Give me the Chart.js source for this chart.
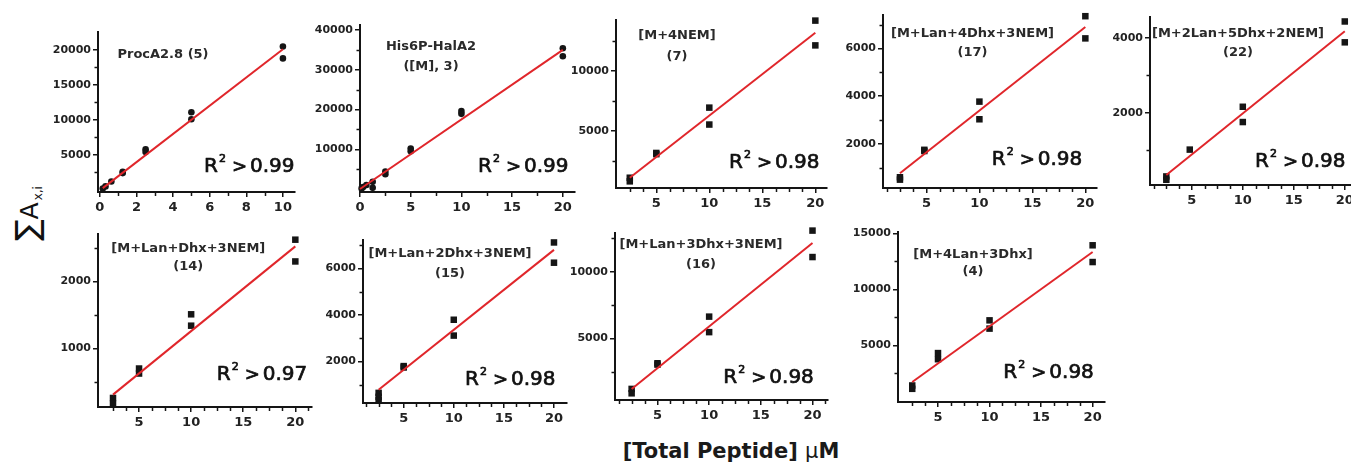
<!DOCTYPE html>
<html><head><meta charset="utf-8">
<script src="https://cdn.jsdelivr.net/npm/chart.js@4.4.1/dist/chart.umd.min.js"></script>
<style>
html,body{margin:0;padding:0;width:1351px;height:467px;overflow:hidden;background:#fff;position:relative;}
canvas{position:absolute;}
#xlab{position:absolute;left:731px;top:441px;transform:translateX(-50%);font-family:"DejaVu Sans";font-weight:bold;font-size:21px;line-height:21px;color:#1a1a1a;white-space:nowrap;}
#xlab .mu{font-weight:normal;}
#ylab{position:absolute;left:9px;top:241px;transform-origin:0 0;transform:rotate(-90deg);font-family:"DejaVu Sans";font-size:25px;line-height:36px;color:#111;white-space:nowrap;}
#ylab .sig{font-size:32px;}
#ylab .sub{font-size:12px;position:relative;top:4px;margin-left:2px;}
</style></head><body>
<div id="ylab"><span class="sig">∑</span><span class="a">A</span><span class="sub">x,i</span></div>
<div id="xlab">[Total Peptide] <span class="mu">μ</span>M</div>
<script>
// ---- tick labels ----
const xTicks10 = [0, 2, 4, 6, 8, 10];
const xTicks20 = [0, 5, 10, 15, 20];
const xTicks5to20 = [5, 10, 15, 20];

// ---- ProcA2.8 (5) ----
const procA_x = [0.16, 0.31, 0.63, 1.25, 1.25, 2.5, 2.5, 5, 5, 10, 10];
const procA_y = [200, 500, 1200, 2400, 2600, 5800, 5400, 11100, 10100, 20500, 18800];
const procA_fitX = [0.16, 10];
const procA_fitY = [250, 20100];
const procA_yTicks = [5000, 10000, 15000, 20000];
const procA_title = ['ProcA2.8 (5)'];
const procA_r2 = '0.99';

// ---- His6P-HalA2 ([M], 3) ----
const hal_x = [0.16, 0.31, 0.63, 1.25, 1.25, 2.5, 2.5, 5, 5, 10, 10, 20, 20];
const hal_y = [150, 500, 1000, 1800, 300, 4400, 3700, 10200, 9500, 19600, 18900, 35400, 33400];
const hal_fitX = [0, 20];
const hal_fitY = [0, 35000];
const hal_yTicks = [10000, 20000, 30000, 40000];
const hal_title = ['His6P-HalA2', '([M], 3)'];
const hal_r2 = '0.99';

// ---- [M+4NEM] (7) ----
const p7_x = [2.5, 2.5, 5, 5, 10, 10, 20, 20];
const p7_y = [1150, 850, 3200, 3100, 6950, 5550, 14150, 12100];
const p7_fitX = [2.5, 20];
const p7_fitY = [1150, 13150];
const p7_yTicks = [5000, 10000];
const p7_title = ['[M+4NEM]', '(7)'];
const p7_r2 = '0.98';

// ---- [M+Lan+4Dhx+3NEM] (17) ----
const p17_x = [2.5, 2.5, 4.8, 4.8, 10, 10, 20, 20];
const p17_y = [600, 500, 1750, 1700, 3770, 3030, 7350, 6420];
const p17_fitX = [2.5, 20];
const p17_fitY = [770, 6900];
const p17_yTicks = [2000, 4000, 6000];
const p17_title = ['[M+Lan+4Dhx+3NEM]', '(17)'];
const p17_r2 = '0.98';

// ---- [M+2Lan+5Dhx+2NEM] (22) ----
const p22_x = [2.5, 2.5, 4.8, 10, 10, 20, 20];
const p22_y = [290, 200, 1010, 2160, 1750, 4450, 3890];
const p22_fitX = [2.5, 20];
const p22_fitY = [330, 4190];
const p22_yTicks = [2000, 4000];
const p22_title = ['[M+2Lan+5Dhx+2NEM]', '(22)'];
const p22_r2 = '0.98';

// ---- [M+Lan+Dhx+3NEM] (14) ----
const p14_x = [2.5, 2.5, 5, 5, 10, 10, 20, 20];
const p14_y = [260, 175, 700, 625, 1510, 1340, 2625, 2300];
const p14_fitX = [2.5, 20];
const p14_fitY = [310, 2525];
const p14_yTicks = [1000, 2000];
const p14_title = ['[M+Lan+Dhx+3NEM]', '(14)'];
const p14_r2 = '0.97';

// ---- [M+Lan+2Dhx+3NEM] (15) ----
const p15_x = [2.5, 2.5, 2.5, 5, 5, 10, 10, 20, 20];
const p15_y = [650, 480, 330, 1800, 1740, 3790, 3110, 7110, 6240];
const p15_fitX = [2.5, 20];
const p15_fitY = [785, 6790];
const p15_yTicks = [2000, 4000, 6000];
const p15_title = ['[M+Lan+2Dhx+3NEM]', '(15)'];
const p15_r2 = '0.98';

// ---- [M+Lan+3Dhx+3NEM] (16) ----
const p16_x = [2.5, 2.5, 5, 5, 10, 10, 20, 20];
const p16_y = [1230, 900, 3150, 3050, 6640, 5480, 13080, 11100];
const p16_fitX = [2.5, 20];
const p16_fitY = [1230, 12150];
const p16_yTicks = [5000, 10000];
const p16_title = ['[M+Lan+3Dhx+3NEM]', '(16)'];
const p16_r2 = '0.98';

// ---- [M+4Lan+3Dhx] (4) ----
const p4_x = [2.5, 2.5, 5, 5, 10, 10, 20, 20];
const p4_y = [1400, 1100, 4300, 3750, 7230, 6490, 13950, 12450];
const p4_fitX = [2.5, 20];
const p4_fitY = [1710, 13350];
const p4_yTicks = [5000, 10000, 15000];
const p4_title = ['[M+4Lan+3Dhx]', '(4)'];
const p4_r2 = '0.98';

// ---- layout of the panels ----
const panels = [
  {x:procA_x, y:procA_y, fx:procA_fitX, fy:procA_fitY, xt:xTicks10, xs:1, yt:procA_yTicks, ys:2500, title:procA_title, r2:procA_r2,
   box:[98,32,295,192], xr:[-0.1,10.66], yr:[-300,22570], tpos:[163,[55]], rpos:[204,172], marker:'circle'},
  {x:hal_x, y:hal_y, fx:hal_fitX, fy:hal_fitY, xt:xTicks20, xs:2.5, yt:hal_yTicks, ys:5000, title:hal_title, r2:hal_r2,
   box:[360,25,575,192], xr:[0,21.2], yr:[-750,41250], tpos:[431,[46.7,66.7]], rpos:[478,171.7], marker:'circle'},
  {x:p7_x, y:p7_y, fx:p7_fitX, fy:p7_fitY, xt:xTicks5to20, xs:1.25, yt:p7_yTicks, ys:2500, title:p7_title, r2:p7_r2,
   box:[616,20,827,188], xr:[1.2,21.1], yr:[300,14200], tpos:[677,[36,56.7]], rpos:[729,168], marker:'rect'},
  {x:p17_x, y:p17_y, fx:p17_fitX, fy:p17_fitY, xt:xTicks5to20, xs:1.25, yt:p17_yTicks, ys:1000, title:p17_title, r2:p17_r2,
   box:[883,15,1097,188], xr:[0.9,21.1], yr:[150,7400], tpos:[972.5,[33.3,52.7]], rpos:[991.7,165], marker:'rect'},
  {x:p22_x, y:p22_y, fx:p22_fitX, fy:p22_fitY, xt:xTicks5to20, xs:1.25, yt:p22_yTicks, ys:1000, title:p22_title, r2:p22_r2,
   box:[1150,17,1356,185], xr:[0.9,21.1], yr:[60,4570], tpos:[1238,[33.3,52.7]], rpos:[1255,166.7], marker:'rect'},
  {x:p14_x, y:p14_y, fx:p14_fitX, fy:p14_fitY, xt:xTicks5to20, xs:1.25, yt:p14_yTicks, ys:500, title:p14_title, r2:p14_r2,
   box:[98,234,312,407], xr:[1.06,21.6], yr:[125,2710], tpos:[188.3,[248.3,266.7]], rpos:[216.7,380], marker:'rect'},
  {x:p15_x, y:p15_y, fx:p15_fitX, fy:p15_fitY, xt:xTicks5to20, xs:1.25, yt:p15_yTicks, ys:1000, title:p15_title, r2:p15_r2,
   box:[363,240,567,403], xr:[0.94,21.3], yr:[215,7215], tpos:[450,[253.3,273.3]], rpos:[465,385], marker:'rect'},
  {x:p16_x, y:p16_y, fx:p16_fitX, fy:p16_fitY, xt:xTicks5to20, xs:1.25, yt:p16_yTicks, ys:2500, title:p16_title, r2:p16_r2,
   box:[615,233,828,400], xr:[0.89,21.5], yr:[400,12900], tpos:[701,[245,264.3]], rpos:[723.3,383.3], marker:'rect'},
  {x:p4_x, y:p4_y, fx:p4_fitX, fy:p4_fitY, xt:xTicks5to20, xs:1.25, yt:p4_yTicks, ys:2500, title:p4_title, r2:p4_r2,
   box:[898,232,1105,402], xr:[1.12,21.2], yr:[-80,15140], tpos:[973,[254.3,271.7]], rpos:[1003.3,378.3], marker:'rect'}
];

const INK = '#151515';
const YW = 60, XH = 30, PT = 12, PR = 12;

function annotPlugin(p, cl, ct, idx) {
  return {
    id: 'annot' + idx,
    afterDraw(chart) {
      const c = chart.ctx, a = chart.chartArea;
      const xs = chart.scales.x, ys = chart.scales.y;
      c.save();
      // minor ticks
      c.strokeStyle = INK; c.lineWidth = 1.5;
      const isMajor = (arr, v) => arr.some(t => Math.abs(t - v) < 1e-6);
      for (let k = Math.ceil(p.xr[0] / p.xs); k * p.xs <= p.xr[1]; k++) {
        const v = k * p.xs;
        if (isMajor(p.xt, v)) continue;
        const px = Math.round(xs.getPixelForValue(v)) + 0.5;
        if (px < a.left + 3 || px > a.right - 1) continue;
        c.beginPath(); c.moveTo(px, a.bottom); c.lineTo(px, a.bottom + 4); c.stroke();
      }
      for (let k = Math.ceil(p.yr[0] / p.ys); k * p.ys <= p.yr[1]; k++) {
        const v = k * p.ys;
        if (isMajor(p.yt, v)) continue;
        const py = Math.round(ys.getPixelForValue(v)) + 0.5;
        if (py > a.bottom - 3 || py < a.top + 1) continue;
        c.beginPath(); c.moveTo(a.left, py); c.lineTo(a.left - 3.5, py); c.stroke();
      }
      // panel title
      c.fillStyle = '#2a2a2a';
      c.font = 'bold 13px "DejaVu Sans"';
      c.textAlign = 'center'; c.textBaseline = 'middle';
      p.title.forEach((t, k) => c.fillText(t, p.tpos[0] - cl, p.tpos[1][k] - ct));
      // R^2 text (slightly thickened)
      const L = p.rpos[0] - cl, B = p.rpos[1] - ct;
      c.fillStyle = '#111'; c.strokeStyle = '#111'; c.lineWidth = 0.7; c.lineJoin = 'round';
      c.textAlign = 'left'; c.textBaseline = 'alphabetic';
      const put = (t, font, x, y) => { c.font = font; c.fillText(t, x, y); c.strokeText(t, x, y); };
      put('R', '20px "DejaVu Sans"', L, B);
      put('2', '11px "DejaVu Sans"', L + 15, B - 10);
      put('>', '18px "DejaVu Sans"', L + 28, B);
      put(p.r2, '20px "DejaVu Sans"', L + 46, B);
      c.restore();
    }
  };
}

panels.forEach((p, idx) => {
  const [L, T, R, B] = p.box;
  const cl = L - YW, ct = T - PT;
  const W = R - L + YW + PR, H = B - T + PT + XH;
  const cv = document.createElement('canvas');
  cv.width = W; cv.height = H;
  cv.style.left = cl + 'px'; cv.style.top = ct + 'px';
  cv.style.width = W + 'px'; cv.style.height = H + 'px';
  document.body.appendChild(cv);
  const circle = p.marker === 'circle';
  new Chart(cv, {
    type: 'scatter',
    data: {
      datasets: [
        { data: p.x.map((v, k) => ({x: v, y: p.y[k]})), pointStyle: p.marker,
          pointRadius: circle ? 3.3 : 4.6, backgroundColor: INK, borderColor: INK, borderWidth: 0,
          clip: false, order: 1 },
        { data: p.fx.map((v, k) => ({x: v, y: p.fy[k]})), showLine: true, pointRadius: 0,
          borderColor: '#e0262b', borderWidth: 2, clip: false, order: 0 }
      ]
    },
    options: {
      responsive: false, animation: false, devicePixelRatio: 1, events: [],
      layout: { padding: { left: 0, top: PT, right: PR, bottom: 0 } },
      plugins: { legend: { display: false }, tooltip: { enabled: false } },
      scales: {
        x: {
          type: 'linear', position: 'bottom', min: p.xr[0], max: p.xr[1],
          afterBuildTicks: s => { s.ticks = p.xt.map(v => ({value: v})); },
          afterFit: s => { s.height = XH; s.paddingLeft = 0; s.paddingRight = 0; s.paddingTop = 0; s.paddingBottom = 0; },
          ticks: { autoSkip: false, maxRotation: 0, padding: 3, color: '#222',
                   font: { family: 'DejaVu Sans', size: 13, weight: 'bold' }, callback: v => String(v) },
          grid: { display: true, drawOnChartArea: false, drawTicks: true, tickLength: 5, color: INK, lineWidth: 1.5 },
          border: { display: true, color: INK, width: 2 }
        },
        y: {
          type: 'linear', position: 'left', min: p.yr[0], max: p.yr[1],
          afterBuildTicks: s => { s.ticks = p.yt.map(v => ({value: v})); },
          afterFit: s => { s.width = YW; s.paddingLeft = 0; s.paddingRight = 0; s.paddingTop = 0; s.paddingBottom = 0; },
          ticks: { autoSkip: false, padding: 2, color: '#222',
                   font: { family: 'DejaVu Sans', size: 11, weight: 'bold' }, callback: v => String(v) },
          grid: { display: true, drawOnChartArea: false, drawTicks: true, tickLength: 5, color: INK, lineWidth: 1.5 },
          border: { display: true, color: INK, width: 2 }
        }
      }
    },
    plugins: [annotPlugin(p, cl, ct, idx)]
  });
});
</script>
</body></html>
